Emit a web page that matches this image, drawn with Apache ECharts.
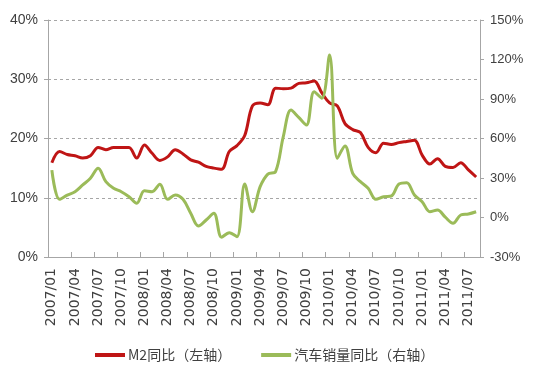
<!DOCTYPE html>
<html>
<head>
<meta charset="utf-8">
<script src="https://cdn.jsdelivr.net/npm/echarts@6/dist/echarts.min.js"></script>
<style>
html,body{margin:0;padding:0;background:#fff;}
#c{width:548px;height:370px;}
</style>
</head>
<body>
<div id="c"></div>
<script>
const months = [];
for (let y = 2007; y <= 2011; y++) {
  for (let m = 1; m <= 12; m++) {
    if (y === 2011 && m > 8) break;
    months.push(y + '/' + (m < 10 ? '0' + m : '' + m));
  }
}
const m2Name = 'M2同比（左轴）';
const autoName = '汽车销量同比（右轴）';
const m2Values = [
  15.9, 17.8, 17.3, 17.1, 16.7, 17.1, 18.5, 18.1, 18.5, 18.5, 18.5, 16.7,
  18.9, 17.5, 16.3, 16.9, 18.1, 17.4, 16.4, 16.0, 15.3, 15.0, 14.8, 17.8,
  18.8, 20.5, 25.5, 26.0, 25.7, 28.5, 28.4, 28.5, 29.3, 29.4, 29.7, 27.7,
  26.0, 25.5, 22.5, 21.5, 21.0, 18.5, 17.6, 19.2, 19.0, 19.3, 19.5, 19.7,
  17.2, 15.7, 16.6, 15.3, 15.1, 15.9, 14.7, 13.5
];
const autoValues = [
  36, 13.8, 17, 19.6, 24.7, 29.8, 37.4, 27.2, 22.2, 19.6, 15.8, 10.8,
  20.3, 19.6, 25.2, 13.8, 17.1, 13.8, 3.2, -6.5, -1.9, 3.2, -15, -11.5,
  -14.6, 25.4, 4.4, 23.4, 33, 34.8, 61.4, 81.6, 76, 70.2, 95.5, 90.5,
  123.4, 45, 54.3, 33.5, 27.2, 22.2, 13.8, 15.8, 16.3, 25.4, 26.4, 17.1,
  12, 4.4, 5.7, 0.2, -4.4, 1.9, 2.7, 4.4
];
const leftTicks = {min: 0, max: 40, interval: 10};
const rightTicks = {min: -30, max: 150, interval: 30};

const chart = echarts.init(document.getElementById('c'), null, {renderer: 'canvas'});
const labelFont = 'Liberation Sans';
chart.setOption({
  animation: false,
  backgroundColor: '#ffffff',
  grid: {left: 48, right: 68, top: 20, bottom: 113, containLabel: false},
  legend: {
    left: 90,
    top: 343,
    itemWidth: 30,
    itemHeight: 4,
    itemGap: 30,
    icon: 'rect',
    textStyle: {fontFamily: 'Noto Sans CJK SC', fontSize: 14, color: '#404040', padding: [0, 0, 0, -2]},
    data: [m2Name, autoName]
  },
  xAxis: {
    type: 'category',
    data: months,
    boundaryGap: true,
    axisLine: {lineStyle: {color: '#a6a6a6', width: 1}},
    axisTick: {show: true, interval: 2, inside: true, length: 5, lineStyle: {color: '#a6a6a6'}},
    axisLabel: {interval: 2, rotate: 90, fontFamily: 'DejaVu Sans', fontSize: 14, color: '#404040', margin: 11},
    splitLine: {show: false}
  },
  yAxis: [
    {
      type: 'value',
      min: leftTicks.min, max: leftTicks.max, interval: leftTicks.interval,
      axisLine: {show: true, lineStyle: {color: '#a6a6a6'}},
      axisTick: {show: true, length: 4, lineStyle: {color: '#a6a6a6'}},
      axisLabel: {formatter: '{value}%', fontFamily: labelFont, fontSize: 14, color: '#404040', margin: 10},
      splitLine: {show: true, lineStyle: {color: '#a6a6a6', type: [3, 3], width: 1}}
    },
    {
      type: 'value',
      min: rightTicks.min, max: rightTicks.max, interval: rightTicks.interval,
      position: 'right',
      axisLine: {show: true, lineStyle: {color: '#a6a6a6'}},
      axisTick: {show: true, length: 4, lineStyle: {color: '#a6a6a6'}},
      axisLabel: {formatter: '{value}%', fontFamily: labelFont, fontSize: 13, color: '#404040', margin: 10},
      splitLine: {show: false}
    }
  ],
  series: [
    {
      name: m2Name,
      type: 'line',
      yAxisIndex: 0,
      data: m2Values,
      smooth: 0.35,
      symbol: 'none',
      lineStyle: {color: '#bf1515', width: 3},
      itemStyle: {color: '#bf1515'}
    },
    {
      name: autoName,
      type: 'line',
      yAxisIndex: 1,
      data: autoValues,
      smooth: 0.35,
      symbol: 'none',
      lineStyle: {color: '#9bbb59', width: 3},
      itemStyle: {color: '#9bbb59'}
    }
  ]
});
</script>
</body>
</html>
